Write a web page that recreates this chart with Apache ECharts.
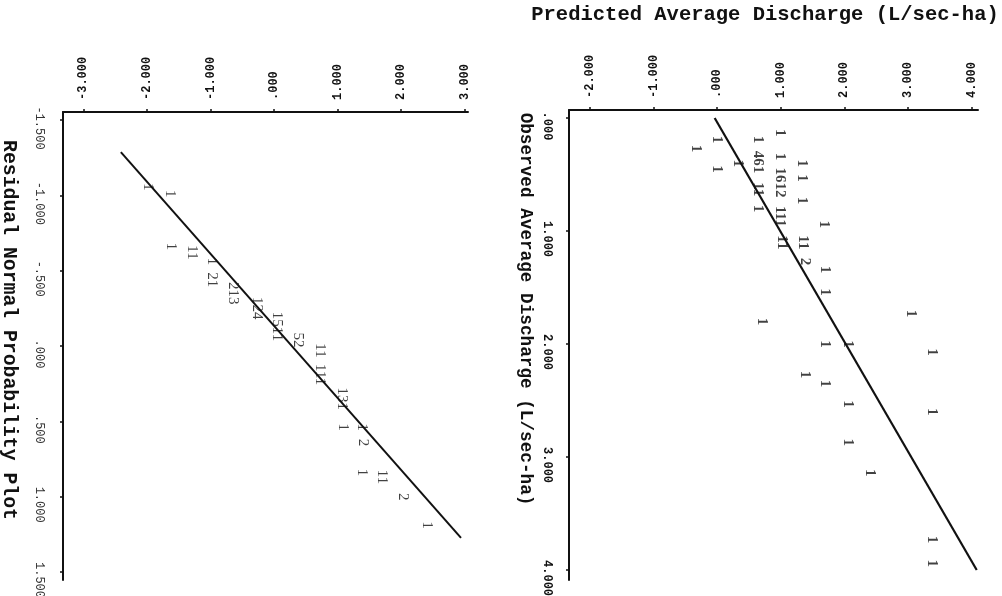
<!DOCTYPE html>
<html>
<head>
<meta charset="utf-8">
<script src="https://cdn.jsdelivr.net/npm/echarts@6/dist/echarts.min.js"></script>
<style>html,body{margin:0;padding:0;background:#fff}#c{width:1002px;height:596px}</style>
</head>
<body>
<div id="c"></div>
<script>
// ---- Left plot: Residual Normal Probability Plot ----
const resTicks = [-3, -2, -1, 0, 1, 2, 3];
const resTickLabels = ['-3.000', '-2.000', '-1.000', '.000', '1.000', '2.000', '3.000'];
const qTicks = [-1.5, -1, -0.5, 0, 0.5, 1, 1.5];
const qTickLabels = ['-1.500', '-1.000', '-.500', '.000', '.500', '1.000', '1.500'];
const resVals = [-1.98, -1.64, -1.62, -1.29, -0.97, -0.97, -0.64, -0.27, 0.05, 0.38, 0.72, 0.72, 1.07, 1.08, 1.38, 1.40, 1.38, 1.70, 2.03, 2.41];
const qVals   = [-1.055, -1.01, -0.66, -0.62, -0.56, -0.44, -0.35, -0.25, -0.13, -0.04, 0.03, 0.19, 0.35, 0.54, 0.54, 0.64, 0.84, 0.87, 1.00, 1.19];
const resMarks = ['1', '1', '1', '11', '1', '21', '213', '124', '1511', '52', '11', '111', '131', '1', '1', '2', '1', '11', '2', '1'];
const resFitX = [-2.41, 2.94];
const resFitY = [-1.287, 1.274];

// ---- Right plot: Observed vs Predicted Average Discharge ----
const predTicks = [-2, -1, 0, 1, 2, 3, 4];
const predTickLabels = ['-2.000', '-1.000', '.000', '1.000', '2.000', '3.000', '4.000'];
const obsTicks = [0, 1, 2, 3, 4];
const obsTickLabels = ['.000', '1.000', '2.000', '3.000', '4.000'];
const predVals = [0.985, 0.00, -0.33, 0.64, 0.985, 0.64, 0.33, 0.00, 1.33, 0.985, 1.33, 0.64, 1.33, 0.64, 0.985, 1.68, 1.02, 1.35, 1.38, 1.70, 1.70, 0.70, 3.04, 1.70, 2.05, 3.37, 1.38, 1.70, 2.05, 3.37, 2.05, 2.40, 3.37, 3.37];
const obsVals  = [0.13, 0.19, 0.27, 0.19, 0.34, 0.39, 0.40, 0.45, 0.40, 0.57, 0.53, 0.63, 0.73, 0.80, 0.87, 0.94, 1.10, 1.10, 1.27, 1.34, 1.54, 1.80, 1.73, 2.00, 2.00, 2.07, 2.27, 2.35, 2.53, 2.60, 2.87, 3.14, 3.73, 3.94];
const obsMarks = ['1', '1', '1', '1', '1', '461', '1', '1', '1', '1612', '1', '11', '1', '1', '111', '1', '11', '11', '2', '1', '1', '1', '1', '1', '1', '1', '1', '1', '1', '1', '1', '1', '1', '1'];
const obsFitX = [-0.04, 4.08];
const obsFitY = [0.0, 4.0];

const BLACK = '#111';
const tickFont = {fontFamily: 'Liberation Mono', fontSize: 12, fontWeight: 'bold', color: BLACK};

function lbl(ticks, labels) {
  return function (v) {
    for (let i = 0; i < ticks.length; i++) if (Math.abs(ticks[i] - v) < 1e-9) return labels[i];
    return '';
  };
}
function topAxis(grid, min, max, ticks, labels, weight) {
  return {
    gridIndex: grid, type: 'value', position: 'top', min: min, max: max,
    axisLine: {show: true, onZero: false, lineStyle: {color: BLACK, width: 2}},
    axisTick: {show: true, customValues: ticks, length: 3, lineStyle: {color: BLACK, width: 1.5}},
    axisLabel: Object.assign({}, tickFont, {fontWeight: weight, customValues: ticks, formatter: lbl(ticks, labels),
      rotate: -90, align: 'left', verticalAlign: 'middle', margin: 12}),
    splitLine: {show: false}
  };
}
function leftAxis(grid, min, max, ticks, labels, weight, margin, color) {
  return {
    gridIndex: grid, type: 'value', position: 'left', inverse: true, min: min, max: max,
    axisLine: {show: true, onZero: false, lineStyle: {color: BLACK, width: 2}},
    axisTick: {show: true, customValues: ticks, length: 3, lineStyle: {color: BLACK, width: 1.5}},
    axisLabel: Object.assign({}, tickFont, {fontWeight: weight, color: color, customValues: ticks, formatter: lbl(ticks, labels),
      rotate: -90, align: 'center', verticalAlign: 'top', margin: margin, padding: [0, 0, 0, 16]}),
    splitLine: {show: false}
  };
}
function marks(xs, ys, texts) {
  return xs.map((x, i) => ({value: [x, ys[i]], label: {formatter: texts[i]}}));
}

const chart = echarts.init(document.getElementById('c'), null, {renderer: 'canvas'});
chart.setOption({
  backgroundColor: '#fff',
  animation: false,
  grid: [
    {left: 63, top: 112, width: 405, height: 468, containLabel: false, outerBoundsMode: 'none'},
    {left: 569, top: 110, width: 409, height: 470, containLabel: false, outerBoundsMode: 'none'}
  ],
  xAxis: [
    topAxis(0, -3.32, 3.05, resTicks, resTickLabels, 'bold'),
    topAxis(1, -2.33, 4.1, predTicks, predTickLabels, 'bold')
  ],
  yAxis: [
    leftAxis(0, -1.553, 1.553, qTicks, qTickLabels, 'normal', 18, '#333'),
    leftAxis(1, -0.071, 4.088, obsTicks, obsTickLabels, 'bold', 16, BLACK)
  ],
  series: [
    {type: 'line', xAxisIndex: 0, yAxisIndex: 0, data: resFitX.map((x, i) => [x, resFitY[i]]),
      symbol: 'none', lineStyle: {color: BLACK, width: 2}, z: 2},
    {type: 'scatter', xAxisIndex: 0, yAxisIndex: 0, data: marks(resVals, qVals, resMarks),
      symbolSize: 1, itemStyle: {color: 'rgba(0,0,0,0)'}, z: 3,
      label: {show: true, position: 'inside', rotate: -90, align: 'center', verticalAlign: 'middle',
        fontFamily: 'Liberation Serif', fontSize: 15, fontWeight: 'normal', color: BLACK}},
    {type: 'line', xAxisIndex: 1, yAxisIndex: 1, data: obsFitX.map((x, i) => [x, obsFitY[i]]),
      symbol: 'none', lineStyle: {color: BLACK, width: 2.2}, z: 2},
    {type: 'scatter', xAxisIndex: 1, yAxisIndex: 1, data: marks(predVals, obsVals, obsMarks),
      symbolSize: 1, itemStyle: {color: 'rgba(0,0,0,0)'}, z: 3,
      label: {show: true, position: 'inside', rotate: -90, align: 'center', verticalAlign: 'middle',
        fontFamily: 'Liberation Serif', fontSize: 15, fontWeight: 'bold', color: BLACK}}
  ],
  graphic: [
    {type: 'text', x: 765, y: 15, style: {text: 'Predicted Average Discharge (L/sec-ha)', fill: BLACK,
      font: 'bold 20.5px "Liberation Mono"', textAlign: 'center', textVerticalAlign: 'middle'}},
    {type: 'text', x: 525, y: 309, rotation: -Math.PI / 2, style: {text: 'Observed Average Discharge (L/sec-ha)', fill: BLACK,
      font: 'bold 17.7px "Liberation Mono"', textAlign: 'center', textVerticalAlign: 'middle'}},
    {type: 'text', x: 9, y: 330, rotation: -Math.PI / 2, style: {text: 'Residual Normal Probability Plot', fill: BLACK,
      font: 'bold 19.8px "Liberation Mono"', textAlign: 'center', textVerticalAlign: 'middle'}}
  ]
});
</script>
</body>
</html>
